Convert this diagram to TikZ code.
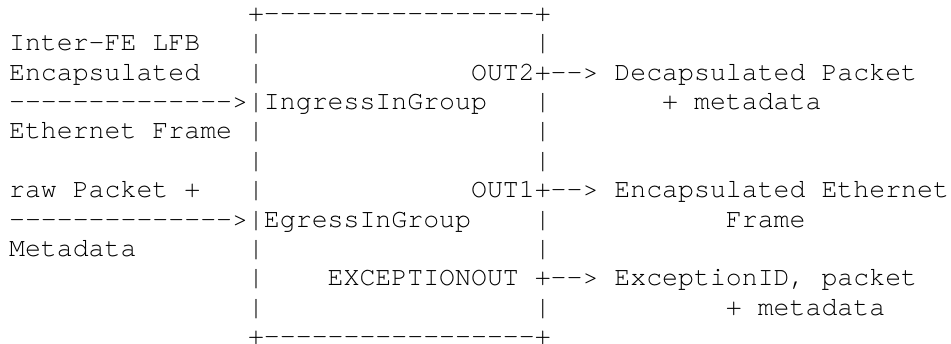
\documentclass[tikz,border=0pt]{standalone}
\usepackage{fontspec}
\IfFontExistsTF{TeX Gyre Cursor}
  {\newfontfamily\asciimono[Ligatures=TeXOff]{TeX Gyre Cursor}}
  {\newfontfamily\asciimono[Ligatures=TeXOff]{Liberation Mono}}
\tikzset{
  ascii/.style={anchor=base west, inner sep=0pt, outer sep=0pt,
    font=\asciimono\fontsize{26.55pt}{29.4pt}\selectfont, text=black}
}
\begin{document}
\begin{tikzpicture}[x=15.93pt, y=-29.4pt]
\useasboundingbox ([xshift=-9.1pt,yshift=21.3pt]0,0) rectangle ([xshift=941.9pt,yshift=-322.7pt]0,0);
% box top and bottom
\node[ascii] (top) at (15,0) {+-----------------+};
\node[ascii] (bot) at (15,11) {+-----------------+};
% line 1
\node[ascii] (l1a) at (0,1) {Inter-FE LFB};
\node[ascii] (l1b) at (15,1) {|};
\node[ascii] (l1c) at (33,1) {|};
% line 2
\node[ascii] (l2a) at (0,2) {Encapsulated};
\node[ascii] (l2b) at (15,2) {|};
\node[ascii] (out2) at (29,2) {OUT2+-->};
\node[ascii] (l2d) at (38,2) {Decapsulated Packet};
% line 3
\node[ascii] (ingress) at (0,3) {-------------->|IngressInGroup};
\node[ascii] (l3b) at (33,3) {|};
\node[ascii] (l3c) at (41,3) {+ metadata};
% line 4
\node[ascii] (l4a) at (0,4) {Ethernet Frame |};
\node[ascii] (l4b) at (33,4) {|};
% line 5
\node[ascii] (l5a) at (15,5) {|};
\node[ascii] (l5b) at (33,5) {|};
% line 6
\node[ascii] (l6a) at (0,6) {raw Packet +};
\node[ascii] (l6b) at (15,6) {|};
\node[ascii] (out1) at (29,6) {OUT1+-->};
\node[ascii] (l6d) at (38,6) {Encapsulated Ethernet};
% line 7
\node[ascii] (egress) at (0,7) {-------------->|EgressInGroup};
\node[ascii] (l7b) at (33,7) {|};
\node[ascii] (l7c) at (45,7) {Frame};
% line 8
\node[ascii] (l8a) at (0,8) {Metadata};
\node[ascii] (l8b) at (15,8) {|};
\node[ascii] (l8c) at (33,8) {|};
% line 9
\node[ascii] (l9a) at (15,9) {|};
\node[ascii] (exc) at (20,9) {EXCEPTIONOUT +-->};
\node[ascii] (l9c) at (38,9) {ExceptionID, packet};
% line 10
\node[ascii] (l10a) at (15,10) {|};
\node[ascii] (l10b) at (33,10) {|};
\node[ascii] (l10c) at (45,10) {+ metadata};
\end{tikzpicture}
\end{document}
